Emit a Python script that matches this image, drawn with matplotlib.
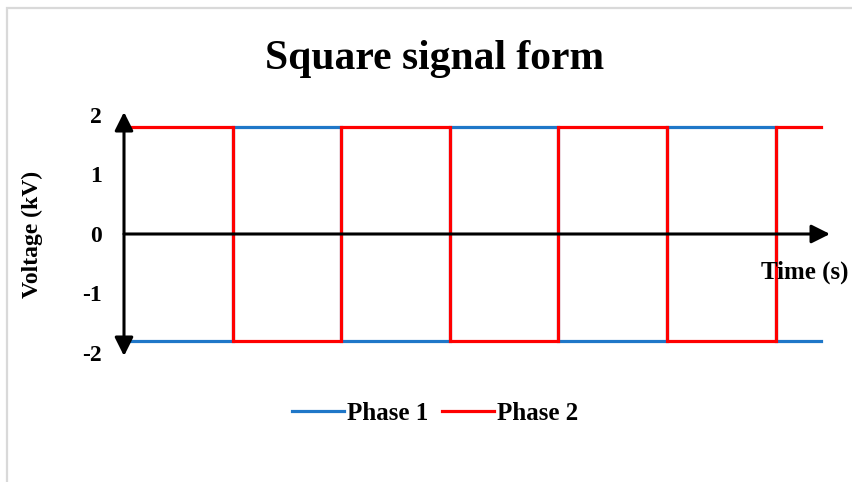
import matplotlib.pyplot as plt
from matplotlib.patches import Rectangle

# square wave corner points (time in periods, voltage in kV)
time = [0, 1, 1, 2, 2, 3, 3, 4, 4, 5, 5, 6, 6, 6.42]
phase1 = [-1.8, -1.8, 1.8, 1.8, -1.8, -1.8, 1.8, 1.8, -1.8, -1.8, 1.8, 1.8, -1.8, -1.8]
phase2 = [1.8, 1.8, -1.8, -1.8, 1.8, 1.8, -1.8, -1.8, 1.8, 1.8, -1.8, -1.8, 1.8, 1.8]
yticks = [-2, -1, 0, 1, 2]

plt.rcParams['font.family'] = 'Liberation Serif'
plt.rcParams['font.weight'] = 'bold'

fig = plt.figure(figsize=(8.53, 4.82), dpi=100)

# light grey chart frame
fig.patches.append(Rectangle((7 / 853, -0.1), 1.2, 1.1 - 8 / 482, transform=fig.transFigure,
                             fill=False, edgecolor='#d9d9d9', linewidth=1.6))

ax = fig.add_axes([124 / 853, 1 - 353 / 482, (830 - 124) / 853, (353 - 115) / 482])
ax.set_xlim(0, 6.5)
ax.set_ylim(-2, 2)

ax.plot(time, phase1, color='#1f77c8', lw=2.3, label='Phase 1', solid_joinstyle='miter')
ax.plot(time, phase2, color='#ff0000', lw=2.3, label='Phase 2', solid_joinstyle='miter')

for s in ax.spines.values():
    s.set_visible(False)
ax.set_xticks([])
ax.set_yticks(yticks)
ax.set_yticklabels([str(v) for v in yticks], fontsize=17, fontweight='bold')
ax.tick_params(axis='y', length=0, pad=16)

# axes with arrow heads
arrow_kw = dict(color='black', lw=2.2, mutation_scale=16, shrinkA=0, shrinkB=0)
ax.annotate('', xy=(0, 2.05), xytext=(0, -2.05), xycoords='data',
            arrowprops=dict(arrowstyle='<|-|>,head_length=0.7,head_width=0.35', **arrow_kw),
            annotation_clip=False)
ax.annotate('', xy=(6.5, 0), xytext=(0, 0), xycoords='data',
            arrowprops=dict(arrowstyle='-|>,head_length=0.7,head_width=0.35', **arrow_kw),
            annotation_clip=False)

fig.text(435 / 853, 1 - 69 / 482, 'Square signal form', ha='center', va='baseline',
         fontsize=30, fontweight='bold')
fig.text(32 / 853, 1 - 234 / 482, 'Voltage (kV)', rotation=90, ha='center', va='center',
         fontsize=17, fontweight='bold')
fig.text(849 / 853, 1 - 272 / 482, 'Time (s)', ha='right', va='center',
         fontsize=18, fontweight='bold')

fig.legend(loc='center', bbox_to_anchor=(435 / 853, 1 - 413 / 482), ncol=2, frameon=False,
           prop={'size': 18, 'weight': 'bold'}, handlelength=2.1, handletextpad=0.1,
           columnspacing=0.55, borderpad=0)

fig.savefig('out.png', dpi=100)
